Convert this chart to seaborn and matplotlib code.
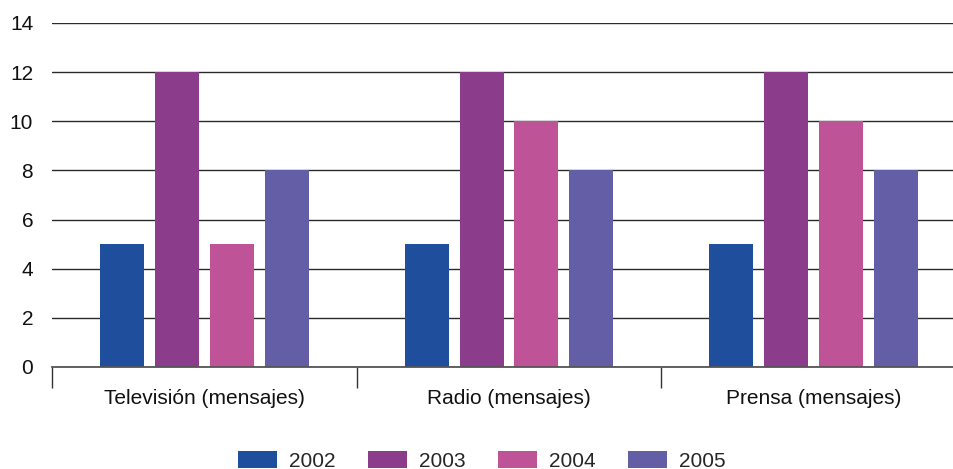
import matplotlib
matplotlib.use("Agg")
import matplotlib.pyplot as plt
import seaborn as sns
import pandas as pd

# Categories and yearly message counts
categories = ["Televisión (mensajes)", "Radio (mensajes)", "Prensa (mensajes)"]
years = ["2002", "2003", "2004", "2005"]
values_2002 = [5, 5, 5]
values_2003 = [12, 12, 12]
values_2004 = [5, 10, 10]
values_2005 = [8, 8, 8]
colors = ["#1F4E9C", "#8B3C8B", "#BE5497", "#635EA5"]

series = [values_2002, values_2003, values_2004, values_2005]
rows = []
for year, vals in zip(years, series):
    for cat, v in zip(categories, vals):
        rows.append({"categoria": cat, "año": year, "valor": v})
df = pd.DataFrame(rows)

sns.set_theme(style="white")
plt.rcParams["font.family"] = ["Liberation Sans", "DejaVu Sans"]

fig = plt.figure(figsize=(9.54, 4.69), dpi=100)
ax = fig.add_axes([52 / 954, 1 - 367 / 469, (966 - 52) / 954, (367 - 23) / 469])

sns.barplot(data=df, x="categoria", y="valor", hue="año", order=categories,
            hue_order=years, palette=colors, width=0.72, gap=0.2,
            saturation=1, linewidth=0, edgecolor="none", ax=ax, legend=True)

ax.set_ylim(0, 14)
ax.set_xlim(-0.5, 2.5)
ax.set_yticks(range(0, 15, 2))
ax.set_xlabel("")
ax.set_ylabel("")

# Horizontal grid lines behind the bars
ax.set_axisbelow(True)
ax.yaxis.grid(True, color="#2a2a2a", linewidth=1.0)
ax.xaxis.grid(False)

for side in ["top", "right", "left"]:
    ax.spines[side].set_visible(False)
ax.spines["bottom"].set_color("#555555")
ax.spines["bottom"].set_linewidth(1.3)

# Category separators as minor ticks on the x axis
ax.set_xticks([-0.5, 0.5, 1.5], minor=True)
ax.tick_params(axis="x", which="minor", length=15, width=1, color="#333333", bottom=True)
ax.tick_params(axis="x", which="major", length=0, pad=15.5, labelsize=15, labelcolor="#111111")
ax.tick_params(axis="y", length=0, pad=13.5, labelsize=15, labelcolor="#111111")

handles, labels = ax.get_legend_handles_labels()
ax.get_legend().remove()
fig.legend(handles, labels, loc="lower center", bbox_to_anchor=(0.505, -0.004), ncol=4,
           frameon=False, fontsize=15, handlelength=1.875, handleheight=0.87,
           handletextpad=0.58, columnspacing=1.54, borderpad=0.0, borderaxespad=0.0)

fig.savefig("out.png", dpi=100)
